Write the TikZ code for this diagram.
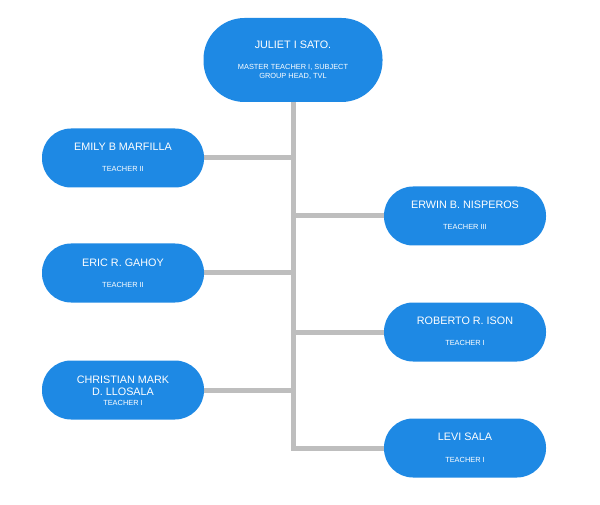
\documentclass[tikz,border=0pt]{standalone}
\usepackage{fontspec}
\setmainfont{Liberation Sans}
\usetikzlibrary{backgrounds}
\definecolor{boxblue}{RGB}{30,137,228}
\definecolor{linegray}{RGB}{190,190,190}
\tikzset{
  person/.style={fill=boxblue, draw=none, minimum width=162pt, minimum height=59pt, rounded corners=29pt, inner sep=0pt},
  headbox/.style={fill=boxblue, draw=none, minimum width=179pt, minimum height=84pt, rounded corners=41pt, inner sep=0pt},
  nametext/.style={text=white, font=\fontsize{10.8}{12.5}\selectfont, align=center, inner sep=0pt},
  roletext/.style={text=white, font=\fontsize{7.4}{9}\selectfont, align=center, inner sep=0pt},
  conn/.style={draw=linegray, line width=5pt}
}
\begin{document}
\begin{tikzpicture}[x=1pt,y=-1pt]
\useasboundingbox (0,0) rectangle (600,505);
% boxes
\node[headbox] (juliet) at (293,60) {};
\node[person] (emily) at (123,158) {};
\node[person] (eric) at (123,273) {};
\node[person] (christian) at (123,390) {};
\node[person] (erwin) at (465,216) {};
\node[person] (roberto) at (465,332) {};
\node[person] (levi) at (465,448) {};
% texts
\node[nametext] (julietname) at (293,45) {JULIET I SATO.};
\node[roletext] (julietrole) at (293,71.5) {MASTER TEACHER I, SUBJECT\\GROUP HEAD, TVL};
\node[nametext] (emilyname) at (123,147) {EMILY B MARFILLA};
\node[roletext] (emilyrole) at (123,169) {TEACHER II};
\node[nametext] (ericname) at (123,263) {ERIC R. GAHOY};
\node[roletext] (ericrole) at (123,285) {TEACHER II};
\node[nametext] (christianname) at (123,386) {CHRISTIAN MARK\\D. LLOSALA};
\node[roletext] (christianrole) at (123,403) {TEACHER I};
\node[nametext] (erwinname) at (465,205) {ERWIN B. NISPEROS};
\node[roletext] (erwinrole) at (465,227) {TEACHER III};
\node[nametext] (robertoname) at (465,321) {ROBERTO R. ISON};
\node[roletext] (robertorole) at (465,343) {TEACHER I};
\node[nametext] (leviname) at (465,437) {LEVI SALA};
\node[roletext] (levirole) at (465,460) {TEACHER I};
% connectors
\begin{scope}[on background layer]
\draw[conn] (juliet.south) -- (juliet.south |- levi.west) -- (levi.west);
\draw[conn] (emily.east) -- (emily.east -| juliet.south);
\draw[conn] (eric.east) -- (eric.east -| juliet.south);
\draw[conn] (christian.east) -- (christian.east -| juliet.south);
\draw[conn] (erwin.west) -- (erwin.west -| juliet.south);
\draw[conn] (roberto.west) -- (roberto.west -| juliet.south);
\end{scope}
\end{tikzpicture}
\end{document}
